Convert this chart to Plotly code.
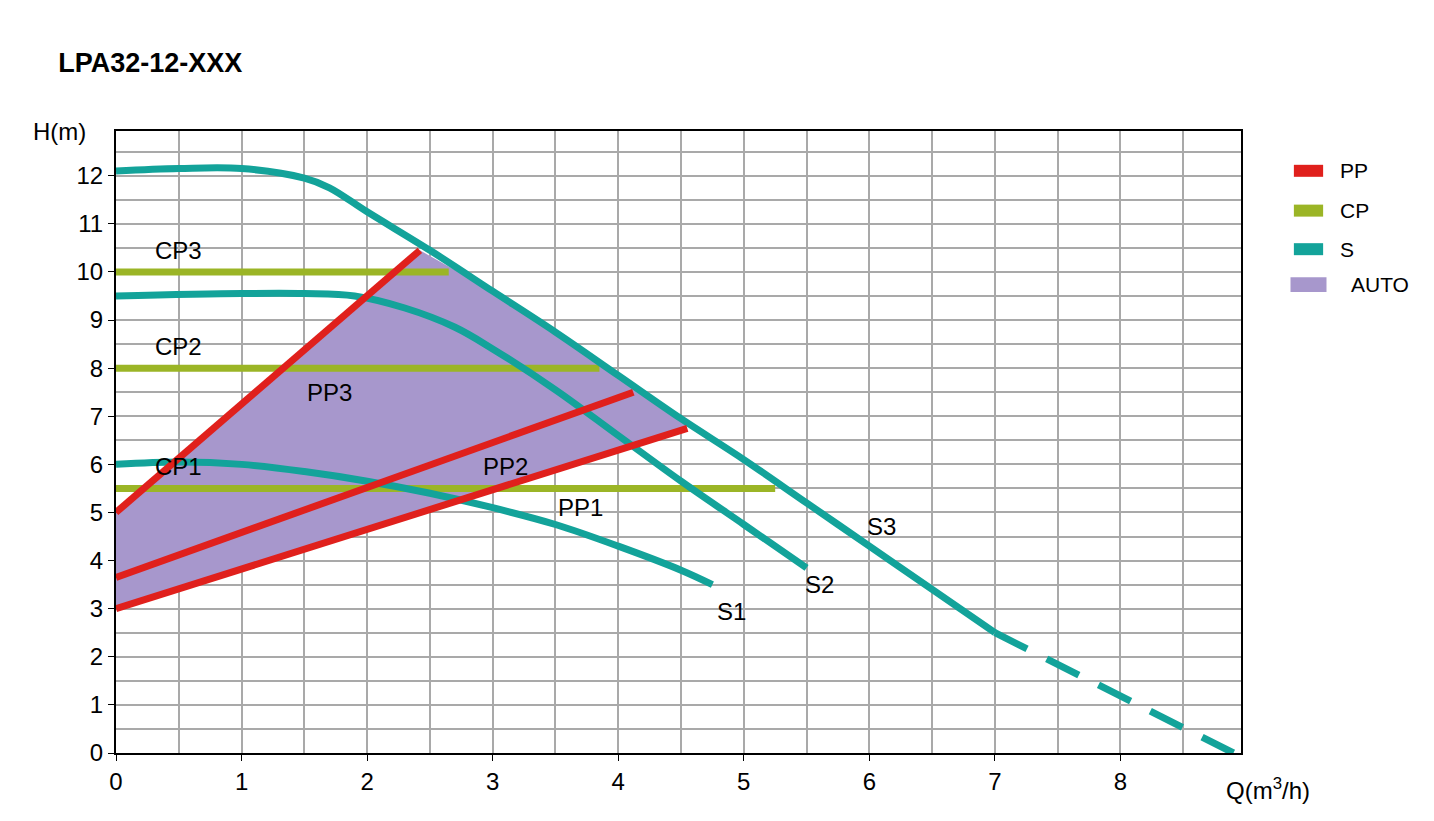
import plotly.graph_objects as go

s3_q = [0, 0.5, 1, 1.5, 1.7, 2, 2.5, 3, 3.5, 4, 4.5, 5, 5.5, 6, 6.5, 7.0]
s3_h = [12.1, 12.15, 12.15, 11.95, 11.75, 11.25, 10.45, 9.6, 8.75, 7.85, 6.95, 6.1, 5.2, 4.3, 3.4, 2.5]
s3d_q = [7.0, 8.9]
s3d_h = [2.5, 0.0]
s2_q = [0, 1, 1.5, 1.9, 2.3, 2.7, 3, 3.5, 4, 4.5, 5, 5.5]
s2_h = [9.5, 9.55, 9.55, 9.5, 9.25, 8.85, 8.4, 7.55, 6.6, 5.65, 4.75, 3.85]
s1_q = [0, 0.5, 1, 1.5, 2, 2.5, 3, 3.5, 4, 4.5, 4.75]
s1_h = [6.0, 6.05, 6.0, 5.85, 5.65, 5.4, 5.1, 4.75, 4.3, 3.8, 3.5]
pp_q = {"PP3": [0, 2.42], "PP2": [0, 4.12], "PP1": [0, 4.55]}
pp_h = {"PP3": [5.0, 10.45], "PP2": [3.65, 7.5], "PP1": [3.0, 6.75]}
cp_q = {"CP3": [0, 2.65], "CP2": [0, 3.85], "CP1": [0, 5.25]}
cp_h = {"CP3": [10, 10], "CP2": [8, 8], "CP1": [5.5, 5.5]}
auto_q = [0, 4.55, 4.5, 4.0, 3.5, 3.0, 2.42, 0]
auto_h = [3.0, 6.75, 6.95, 7.85, 8.75, 9.6, 10.45, 5.0]

RED, OLIVE, TEAL, PURPLE = "#e0201c", "#9bb526", "#13a39a", "#a797cc"
F = "Liberation Sans, Arial, sans-serif"

fig = go.Figure()
fig.add_trace(go.Scatter(x=auto_q, y=auto_h, fill="toself", fillcolor=PURPLE,
                         line=dict(width=0), mode="lines", showlegend=False))
for k in cp_q:
    fig.add_trace(go.Scatter(x=cp_q[k], y=cp_h[k], mode="lines",
                             line=dict(color=OLIVE, width=7), showlegend=False))
for q, h in [(s1_q, s1_h), (s2_q, s2_h), (s3_q, s3_h)]:
    fig.add_trace(go.Scatter(x=q, y=h, mode="lines", line=dict(color=TEAL, width=7, shape="spline"),
                             showlegend=False))
fig.add_trace(go.Scatter(x=s3d_q, y=s3d_h, mode="lines",
                         line=dict(color=TEAL, width=7, dash="36px,22px"), showlegend=False))
for k in pp_q:
    fig.add_trace(go.Scatter(x=pp_q[k], y=pp_h[k], mode="lines",
                             line=dict(color=RED, width=7), showlegend=False))

labels = [("CP3", 0.5, 10.45), ("CP2", 0.5, 8.45), ("CP1", 0.5, 5.95), ("PP3", 1.7, 7.5),
          ("PP2", 3.1, 5.95), ("PP1", 3.7, 5.1), ("S1", 4.9, 2.95), ("S2", 5.6, 3.5), ("S3", 6.1, 4.7)]
for t, x, y in labels:
    fig.add_annotation(x=x, y=y, text=t, showarrow=False, font=dict(size=24, color="black", family=F))

leg = [("PP", RED, 0.936), ("CP", OLIVE, 0.872), ("S", TEAL, 0.810), ("AUTO", PURPLE, 0.753)]
for name, c, yp in leg:
    if name == "AUTO":
        fig.add_shape(type="rect", xref="paper", yref="paper", x0=1.044, x1=1.076,
                      y0=yp - 0.012, y1=yp + 0.012, fillcolor=c, line_width=0)
    else:
        fig.add_shape(type="line", xref="paper", yref="paper", x0=1.047, x1=1.073,
                      y0=yp, y1=yp, line=dict(color=c, width=12))
    fig.add_annotation(xref="paper", yref="paper", x=1.086 + (0.01 if name == "AUTO" else 0), y=yp,
                       text=name, showarrow=False, xanchor="left", yanchor="middle",
                       font=dict(size=21, color="black", family=F))

fig.add_annotation(xref="paper", yref="paper", x=-0.05, y=1.0, text="H(m)", showarrow=False,
                   xanchor="center", yanchor="middle", font=dict(size=24, color="black", family=F))
fig.add_annotation(xref="paper", yref="paper", x=0.985, y=-0.03, text="Q(m<sup>3</sup>/h)", showarrow=False,
                   xanchor="left", yanchor="top", font=dict(size=24, color="black", family=F))

fig.update_layout(
    width=1434, height=821, plot_bgcolor="white", paper_bgcolor="white",
    margin=dict(l=108, r=201, t=123, b=76, autoexpand=False),
    title=dict(text="<b>LPA32-12-XXX</b>", x=0.035, y=0.945, xanchor="left",
               font=dict(size=27, color="black", family=F)),
    showlegend=False,
)
fig.update_xaxes(range=[0, 8.96], tickvals=list(range(9)), showgrid=True, gridcolor="#a9a9a9",
                 gridwidth=2, showline=True, linecolor="black", linewidth=2, mirror=True,
                 ticks="outside", ticklen=6, tickcolor="black", zeroline=False, automargin=False,
                 tickfont=dict(size=24, color="black", family=F),
                 minor=dict(dtick=0.5, showgrid=True, gridcolor="#a9a9a9", gridwidth=2))
fig.update_yaxes(range=[0, 12.93], tickvals=list(range(13)), showgrid=True, gridcolor="#a9a9a9",
                 gridwidth=2, showline=True, linecolor="black", linewidth=2, mirror=True,
                 ticks="outside", ticklen=6, tickcolor="black", zeroline=False, automargin=False,
                 tickfont=dict(size=24, color="black", family=F),
                 minor=dict(dtick=0.5, showgrid=True, gridcolor="#a9a9a9", gridwidth=2))
fig.write_html("out.html")
